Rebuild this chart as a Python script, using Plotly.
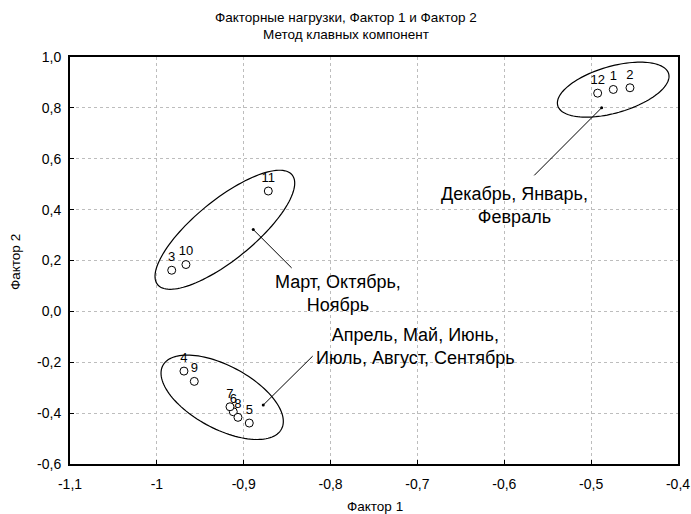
import numpy as np
import plotly.graph_objects as go

# ---- data ----
labels = ["1", "2", "3", "4", "5", "6", "7", "8", "9", "10", "11", "12"]
factor1 = [-0.4745, -0.4553, -0.9829, -0.9688, -0.8936, -0.9120, -0.9158, -0.9066, -0.9569, -0.9665, -0.8717, -0.4925]
factor2 = [0.8724, 0.8790, 0.1617, -0.2348, -0.4390, -0.3946, -0.3750, -0.4166, -0.2752, 0.1841, 0.4731, 0.8579]

x_tickvals = [-1.1, -1.0, -0.9, -0.8, -0.7, -0.6, -0.5, -0.4]
x_ticktext = ["-1,1", "-1", "-0,9", "-0,8", "-0,7", "-0,6", "-0,5", "-0,4"]
y_tickvals = [-0.6, -0.4, -0.2, 0.0, 0.2, 0.4, 0.6, 0.8, 1.0]
y_ticktext = ["-0,6", "-0,4", "-0,2", "0,0", "0,2", "0,4", "0,6", "0,8", "1,0"]

# group ellipses: centre (data), semi-axes (screen px), angle (deg)
ell_cx = [-0.4746, -0.9217, -0.9248]
ell_cy = [0.8716, 0.3208, -0.3377]
ell_a = [57.7, 86.8, 67.3]
ell_b = [23.3, 29.8, 31.5]
ell_ang = [16.1, 39.2, -28.2]

# leader lines: start (dot) -> end, and group captions
lead_x0 = [-0.4879, -0.8890, -0.8775]
lead_y0 = [0.8005, 0.3216, -0.3683]
lead_x1 = [-0.5655, -0.8448, -0.8206]
lead_y1 = [0.5347, 0.1708, -0.1759]
cap_x = [-0.5888, -0.7911, -0.7028]
cap_y = [0.417, 0.0703, -0.1366]
cap_text = ["Декабрь, Январь,<br>Февраль",
            "Март, Октябрь,<br>Ноябрь",
            "Апрель, Май, Июнь,<br>Июль, Август, Сентябрь"]

# ---- layout geometry ----
W, H = 691, 514
ML, MR, MT, MB = 70, 13, 57, 50
XR = [-1.1, -0.4]
YR = [-0.6, 1.0]
pw = W - ML - MR
ph = H - MT - MB
px_x = pw / (XR[1] - XR[0])
px_y = ph / (YR[1] - YR[0])

FONT = "Liberation Sans, Arial, sans-serif"

fig = go.Figure()

fig.add_trace(go.Scatter(
    x=factor1, y=factor2, mode="markers+text", text=labels,
    textposition="top center",
    textfont=dict(family=FONT, size=13, color="black"),
    marker=dict(symbol="circle", size=8, color="white",
                line=dict(color="black", width=1)),
    showlegend=False, cliponaxis=False,
))

shapes = []
t = np.linspace(0, 2 * np.pi, 120)
for cx, cy, a, b, ang in zip(ell_cx, ell_cy, ell_a, ell_b, ell_ang):
    th = np.deg2rad(ang)
    ux = a * np.cos(t) * np.cos(th) - b * np.sin(t) * np.sin(th)
    uy = a * np.cos(t) * np.sin(th) + b * np.sin(t) * np.cos(th)
    xs = cx + ux / px_x
    ys = cy + uy / px_y
    path = "M " + " L ".join(f"{x:.5f},{y:.5f}" for x, y in zip(xs, ys)) + " Z"
    shapes.append(dict(type="path", path=path, xref="x", yref="y",
                       line=dict(color="black", width=1.2)))

for x0, y0, x1, y1 in zip(lead_x0, lead_y0, lead_x1, lead_y1):
    shapes.append(dict(type="line", x0=x0, y0=y0, x1=x1, y1=y1,
                       xref="x", yref="y", line=dict(color="black", width=1)))

fig.add_trace(go.Scatter(
    x=lead_x0, y=lead_y0, mode="markers",
    marker=dict(size=3, color="black"), showlegend=False, hoverinfo="skip"))

annotations = []
for x, y, txt in zip(cap_x, cap_y, cap_text):
    annotations.append(dict(x=x, y=y, xref="x", yref="y", text=txt,
                            showarrow=False, align="center",
                            font=dict(family=FONT, size=18, color="black")))

def py_to_paper(py):
    return (H - MB - py) / ph

annotations += [
    dict(text="Факторные нагрузки, Фактор 1 и Фактор 2", xref="paper", yref="paper",
         x=(345.5 - ML) / pw, y=py_to_paper(17), showarrow=False, yanchor="middle",
         font=dict(family=FONT, size=13.5, color="black")),
    dict(text="Метод клавных компонент", xref="paper", yref="paper",
         x=(345.5 - ML) / pw, y=py_to_paper(34), showarrow=False, yanchor="middle",
         font=dict(family=FONT, size=13.5, color="black")),
    dict(text="Фактор 1", xref="paper", yref="paper",
         x=(375 - ML) / pw, y=py_to_paper(506), showarrow=False, yanchor="middle",
         font=dict(family=FONT, size=13.5, color="black")),
    dict(text="Фактор 2", xref="paper", yref="paper", textangle=-90,
         x=(15 - ML) / pw, y=py_to_paper(262), showarrow=False, xanchor="center",
         yanchor="middle", font=dict(family=FONT, size=13.5, color="black")),
]

axis_common = dict(showgrid=True, gridcolor="#bdbdbd", griddash="dot", gridwidth=1,
                   showline=True, linecolor="black", linewidth=2, mirror=True,
                   ticks="inside", ticklen=4, tickcolor="black", zeroline=False,
                   automargin=False,
                   tickfont=dict(family=FONT, size=14, color="black"))

fig.update_layout(
    width=W, height=H, autosize=False,
    margin=dict(l=ML, r=MR, t=MT, b=MB, autoexpand=False),
    paper_bgcolor="white", plot_bgcolor="white",
    shapes=shapes, annotations=annotations,
    xaxis=dict(range=XR, tickvals=x_tickvals, ticktext=x_ticktext,
               ticklabelstandoff=6, **axis_common),
    yaxis=dict(range=YR, tickvals=y_tickvals, ticktext=y_ticktext,
               ticklabelstandoff=4, **axis_common),
    font=dict(family=FONT),
)

fig.write_html(
    "out.html",
    config={"displayModeBar": False, "responsive": False},
    post_script=("document.documentElement.style.margin='0';"
                 "document.documentElement.style.overflow='hidden';"
                 "document.body.style.margin='0';"
                 "document.body.style.padding='0';"
                 "document.body.style.overflow='hidden';"),
)
